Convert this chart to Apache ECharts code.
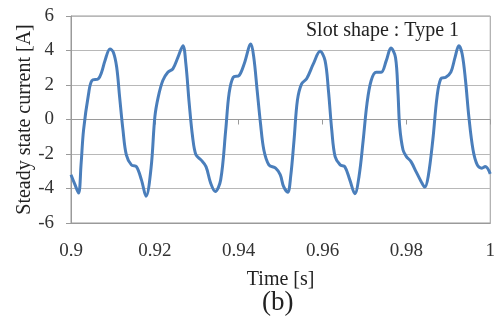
<!DOCTYPE html>
<html>
<head>
<meta charset="utf-8">
<script src="https://cdn.jsdelivr.net/npm/echarts@6/dist/echarts.min.js"></script>
<style>
  html, body { margin: 0; padding: 0; background: #fff; }
  #chart { width: 498px; height: 325px; }
</style>
</head>
<body>
<div id="chart"></div>
<script>
// time [s] and current [A]
const times = [
  0.9000, 0.9009, 0.9018, 0.9024, 0.9030, 0.9042, 0.9050, 0.9065, 0.9073, 0.9081,
  0.9093, 0.9101, 0.9109, 0.9116, 0.9124, 0.9132, 0.9144, 0.9156, 0.9168, 0.9179,
  0.9191, 0.9200, 0.9208, 0.9219, 0.9231, 0.9243, 0.9255, 0.9267, 0.9274, 0.9282,
  0.9290, 0.9298, 0.9310, 0.9322, 0.9333, 0.9344, 0.9357, 0.9369, 0.9377, 0.9387,
  0.9401, 0.9413, 0.9429, 0.9436, 0.9444, 0.9452, 0.9460, 0.9472, 0.9488, 0.9499,
  0.9507, 0.9517, 0.9524, 0.9532, 0.9540, 0.9550, 0.9562, 0.9578, 0.9594, 0.9606,
  0.9614, 0.9622, 0.9630, 0.9642, 0.9653, 0.9665, 0.9677, 0.9687, 0.9697, 0.9706,
  0.9716, 0.9728, 0.9740, 0.9752, 0.9763, 0.9774, 0.9780, 0.9784, 0.9792, 0.9800,
  0.9811, 0.9823, 0.9835, 0.9844, 0.9852, 0.9863, 0.9873, 0.9882, 0.9894, 0.9906,
  0.9916, 0.9925, 0.9933, 0.9941, 0.9949, 0.9959, 0.9969, 0.9980, 0.9988, 1.0000
]
const current = [
  -3.2, -3.75, -4.26, -2.6, -0.6, 1.5, 2.26, 2.36, 2.74, 3.41,
  4.09, 3.9, 3.03, 1.3, -0.62, -2.05, -2.63, -2.73, -3.5, -4.45,
  -2.8, 0.15, 1.3, 2.26, 2.74, 2.94, 3.6, 4.28, 3.22, 0.92,
  -1.0, -2.05, -2.34, -2.73, -3.68, -4.17, -3.5, -0.62, 1.5, 2.45,
  2.55, 3.22, 4.38, 3.6, 1.69, -0.23, -1.77, -2.63, -2.82, -3.2,
  -3.88, -4.22, -3.3, -1.19, 1.11, 2.07, 2.36, 3.22, 3.95, 3.41,
  1.69, -0.62, -2.15, -2.63, -2.73, -3.5, -4.3, -3.3, -1.19, 0.92,
  2.26, 2.74, 2.74, 3.41, 4.14, 3.6, 1.5, -0.42, -1.77, -2.15,
  -2.44, -3.02, -3.59, -3.92, -3.3, -1.19, 1.3, 2.36, 2.45, 2.74,
  3.6, 4.28, 3.8, 2.26, 0.15, -1.77, -2.63, -2.82, -2.73, -3.15
]
const yTicks = [-6, -4, -2, 0, 2, 4, 6]

const serif = '"Liberation Serif", "DejaVu Serif", serif'
const gray = '#9a9a9a'

const chart = echarts.init(document.getElementById('chart'))
chart.setOption({
  animation: false,
  grid: { left: 71, right: 2, top: 16, bottom: 102, show: true, borderColor: gray, borderWidth: 1 },
  xAxis: [
    {
      type: 'value', min: 0.9, max: 1, interval: 0.02,
      name: 'Time [s]', nameLocation: 'middle', nameGap: 47,
      nameTextStyle: { fontFamily: serif, fontSize: 20, color: '#222' },
      axisLine: { onZero: false, lineStyle: { color: gray } },
      axisTick: { show: false },
      axisLabel: { fontFamily: serif, fontSize: 19, color: '#333', margin: 19 },
      splitLine: { show: false }
    },
    {
      type: 'value', min: 0.9, max: 1, interval: 0.02, position: 'top',
      axisLine: { onZero: true, lineStyle: { color: gray } },
      axisTick: { inside: true, length: 5, lineStyle: { color: gray } },
      axisLabel: { show: false },
      splitLine: { show: false }
    }
  ],
  yAxis: {
    type: 'value', min: yTicks[0], max: yTicks[yTicks.length - 1], interval: 2,
    name: 'Steady state current [A]', nameLocation: 'middle', nameGap: 36, nameMoveOverlap: false,
    nameTextStyle: { fontFamily: serif, fontSize: 20, color: '#222' },
    axisLine: { show: true, onZero: false, lineStyle: { color: gray } },
    axisTick: { show: true, length: 5, lineStyle: { color: gray } },
    axisLabel: { fontFamily: serif, fontSize: 19, color: '#333', margin: 17 },
    splitLine: { lineStyle: { color: '#b8b8b8' } }
  },
  graphic: [
    { type: 'text', left: 306, top: 21, style: { text: 'Slot shape : Type 1', font: '20px ' + serif, fill: '#222' } },
    { type: 'text', left: 262, top: 289, style: { text: '(b)', font: '27px ' + serif, fill: '#222' } }
  ],
  series: [{
    type: 'line', xAxisIndex: 0, showSymbol: false, smooth: 0.35,
    data: times.map((t, i) => [t, current[i]]),
    lineStyle: { color: '#4a7ebb', width: 3 }
  }]
})
</script>
</body>
</html>
